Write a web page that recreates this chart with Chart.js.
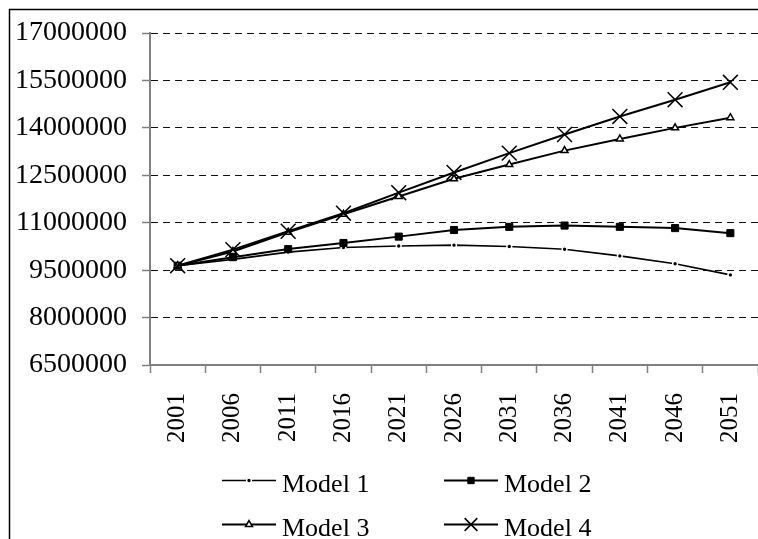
<!DOCTYPE html>
<html><head><meta charset="utf-8">
<script src="https://cdn.jsdelivr.net/npm/chart.js@4"></script>
<style>html,body{margin:0;padding:0;background:#fff;overflow:hidden}canvas{display:block}</style>
</head><body>
<canvas id="c" width="758" height="539"></canvas>
<script>
const years = ['2001','2006','2011','2016','2021','2026','2031','2036','2041','2046','2051'];
const seriesNames = ['Model 1','Model 2','Model 3','Model 4'];
const model1 = [9640000, 9840000, 10070000, 10215000, 10265000, 10290000, 10250000, 10160000, 9950000, 9700000, 9350000];
const model2 = [9640000, 9910000, 10165000, 10360000, 10560000, 10770000, 10870000, 10910000, 10870000, 10830000, 10670000];
const model3 = [9640000, 10090000, 10700000, 11270000, 11830000, 12390000, 12840000, 13280000, 13650000, 14000000, 14320000];
const model4 = [9640000, 10150000, 10730000, 11300000, 11950000, 12590000, 13200000, 13790000, 14360000, 14890000, 15440000];
const yTicks = [6500000, 8000000, 9500000, 11000000, 12500000, 14000000, 15500000, 17000000];

const FONT = '"Liberation Serif", "Times New Roman", serif';

const datasets = [
  {label: seriesNames[0], data: model1, order: 4, borderColor:'#000', borderWidth:1.6,
   pointStyle:'circle', pointRadius:2.4, pointBackgroundColor:'#000', pointBorderColor:'#fff', pointBorderWidth:1.4},
  {label: seriesNames[1], data: model2, order: 3, borderColor:'#000', borderWidth:2,
   pointStyle:'rect', pointRadius:5, pointBackgroundColor:'#000', pointBorderColor:'#000', pointBorderWidth:1},
  {label: seriesNames[2], data: model3, order: 2, borderColor:'#000', borderWidth:2,
   pointStyle:'triangle', pointRadius:4, pointBackgroundColor:'#fff', pointBorderColor:'#000', pointBorderWidth:1.5},
  {label: seriesNames[3], data: model4, order: 1, borderColor:'#000', borderWidth:2,
   pointStyle:'crossRot', pointRadius:10.5, pointBackgroundColor:'#000', pointBorderColor:'#000', pointBorderWidth:1.5}
];
datasets.forEach(d => { d.fill = false; d.tension = 0; d.pointHoverRadius = d.pointRadius; d.clip = false; });

const frame = {
  id: 'frame',
  beforeDraw(chart) {
    const ctx = chart.ctx;
    ctx.save();
    ctx.fillStyle = '#fff';
    ctx.fillRect(0, 0, chart.width, chart.height);
    ctx.strokeStyle = '#000';
    ctx.lineWidth = 1.5;
    ctx.beginPath();
    ctx.moveTo(9.5, chart.height + 2);
    ctx.lineTo(9.5, 9.5);
    ctx.lineTo(chart.width + 2, 9.5);
    ctx.stroke();
    ctx.restore();
  }
};

const legendPlugin = {
  id: 'customLegend',
  afterDraw(chart) {
    const ctx = chart.ctx;
    const colX = [222, 444];
    const rowY = [480.5, 524.5];
    chart.data.datasets.forEach((ds, i) => {
      const x0 = colX[i % 2];
      const y = rowY[Math.floor(i / 2)];
      ctx.save();
      ctx.strokeStyle = ds.borderColor;
      ctx.lineWidth = ds.borderWidth;
      ctx.beginPath();
      ctx.moveTo(x0, y);
      ctx.lineTo(x0 + 54, y);
      ctx.stroke();
      ctx.fillStyle = ds.pointBackgroundColor;
      ctx.strokeStyle = ds.pointBorderColor;
      ctx.lineWidth = ds.pointBorderWidth;
      const r = ds.pointStyle === 'crossRot' ? 9 : (ds.pointStyle === 'rect' ? 4.5 : ds.pointRadius);
      Chart.helpers.drawPoint(ctx, {pointStyle: ds.pointStyle, radius: r, rotation: 0, borderWidth: ds.pointBorderWidth}, x0 + 27, y);
      ctx.fillStyle = '#000';
      ctx.font = '26px ' + FONT;
      ctx.textBaseline = 'alphabetic';
      ctx.textAlign = 'left';
      ctx.fillText(ds.label, x0 + 60, y + 11.5);
      ctx.restore();
    });
  }
};

new Chart(document.getElementById('c'), {
  type: 'line',
  data: {labels: years, datasets: datasets},
  plugins: [frame, legendPlugin],
  options: {
    responsive: false,
    devicePixelRatio: 1,
    animation: false,
    events: [],
    layout: {autoPadding: false, padding: {left: 0, right: 0, top: 33, bottom: 74}},
    plugins: {legend: {display: false}, tooltip: {enabled: false}, title: {display: false}},
    scales: {
      x: {
        type: 'category',
        offset: true,
        grid: {display: true, drawOnChartArea: false, drawTicks: true, tickLength: 8, tickColor: '#808080', tickWidth: 1.5, offset: true},
        border: {display: true, color: '#808080', width: 2},
        ticks: {autoSkip: false, minRotation: 90, maxRotation: 90, padding: 20, color: '#000', font: {family: FONT, size: 25}},
        afterFit(scale) { scale.height = 100; scale.paddingLeft = 0; scale.paddingRight = 0; }
      },
      y: {
        type: 'linear',
        min: yTicks[0],
        max: yTicks[yTicks.length - 1],
        afterBuildTicks(scale) { scale.ticks = yTicks.map(v => ({value: v})); },
        grid: {
          drawOnChartArea: true, drawTicks: true, tickLength: 8, tickColor: '#808080', tickWidth: 1.5,
          color: (c) => (c.tick && c.tick.value === yTicks[0]) ? 'rgba(0,0,0,0)' : '#111',
          lineWidth: 1
        },
        border: {display: true, color: '#808080', width: 2, dash: [7, 5]},
        ticks: {autoSkip: false, padding: 15, color: '#000', font: {family: FONT, size: 28},
                callback: (v) => String(v)},
        afterFit(scale) { scale.width = 150; scale.paddingTop = 0; scale.paddingBottom = 0; }
      }
    }
  }
});
</script>
</body></html>
